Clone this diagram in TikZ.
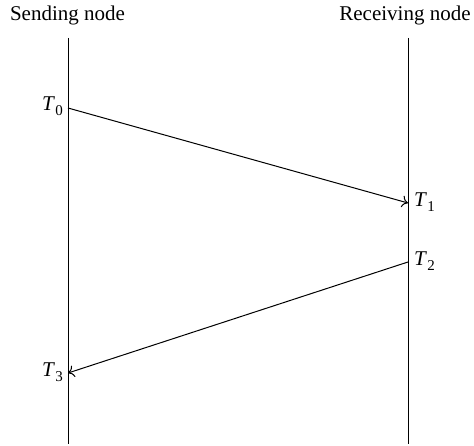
\documentclass[tikz,border=0pt]{standalone}
\usepackage{fontspec}
\setmainfont{Liberation Serif}
\usetikzlibrary{arrows.meta}
\newcommand\Tsub[1]{\textit{T}\kern0.3pt\raisebox{-4.5pt}{\fontsize{15}{17}\selectfont #1}}
\begin{document}
\begin{tikzpicture}[x=1pt,y=-1pt,
  lifeline/.style={line width=1pt},
  msg/.style={line width=1pt,-{To[length=6pt,width=12pt]}},
  head/.style={font=\fontsize{21}{24}\selectfont, inner sep=0pt},
  tlabel/.style={font=\fontsize{21}{24}\selectfont, inner sep=0pt}]
\useasboundingbox (0,0) rectangle (474,446);
\node[head, anchor=base] (snd) at (67.5,21) {Sending node};
\node[head, anchor=base] (rcv) at (405,21) {Receiving node};
\coordinate (stop) at (68,38);
\coordinate (sbot) at (68,444);
\coordinate (rtop) at (408,38);
\coordinate (rbot) at (408,444);
\draw[lifeline] (stop) -- (sbot);
\draw[lifeline] (rtop) -- (rbot);
\coordinate (t0) at (68,108);
\coordinate (t1) at (408,203);
\coordinate (t2) at (408,262);
\coordinate (t3) at (68,373);
\draw[msg] (t0) -- (t1);
\draw[msg] (t2) -- (t3);
\node[tlabel, anchor=base east] (l0) at (63,111) {\Tsub{0}};
\node[tlabel, anchor=base west] (l1) at (414,207) {\Tsub{1}};
\node[tlabel, anchor=base west] (l2) at (414,266) {\Tsub{2}};
\node[tlabel, anchor=base east] (l3) at (63,377) {\Tsub{3}};
\end{tikzpicture}
\end{document}
